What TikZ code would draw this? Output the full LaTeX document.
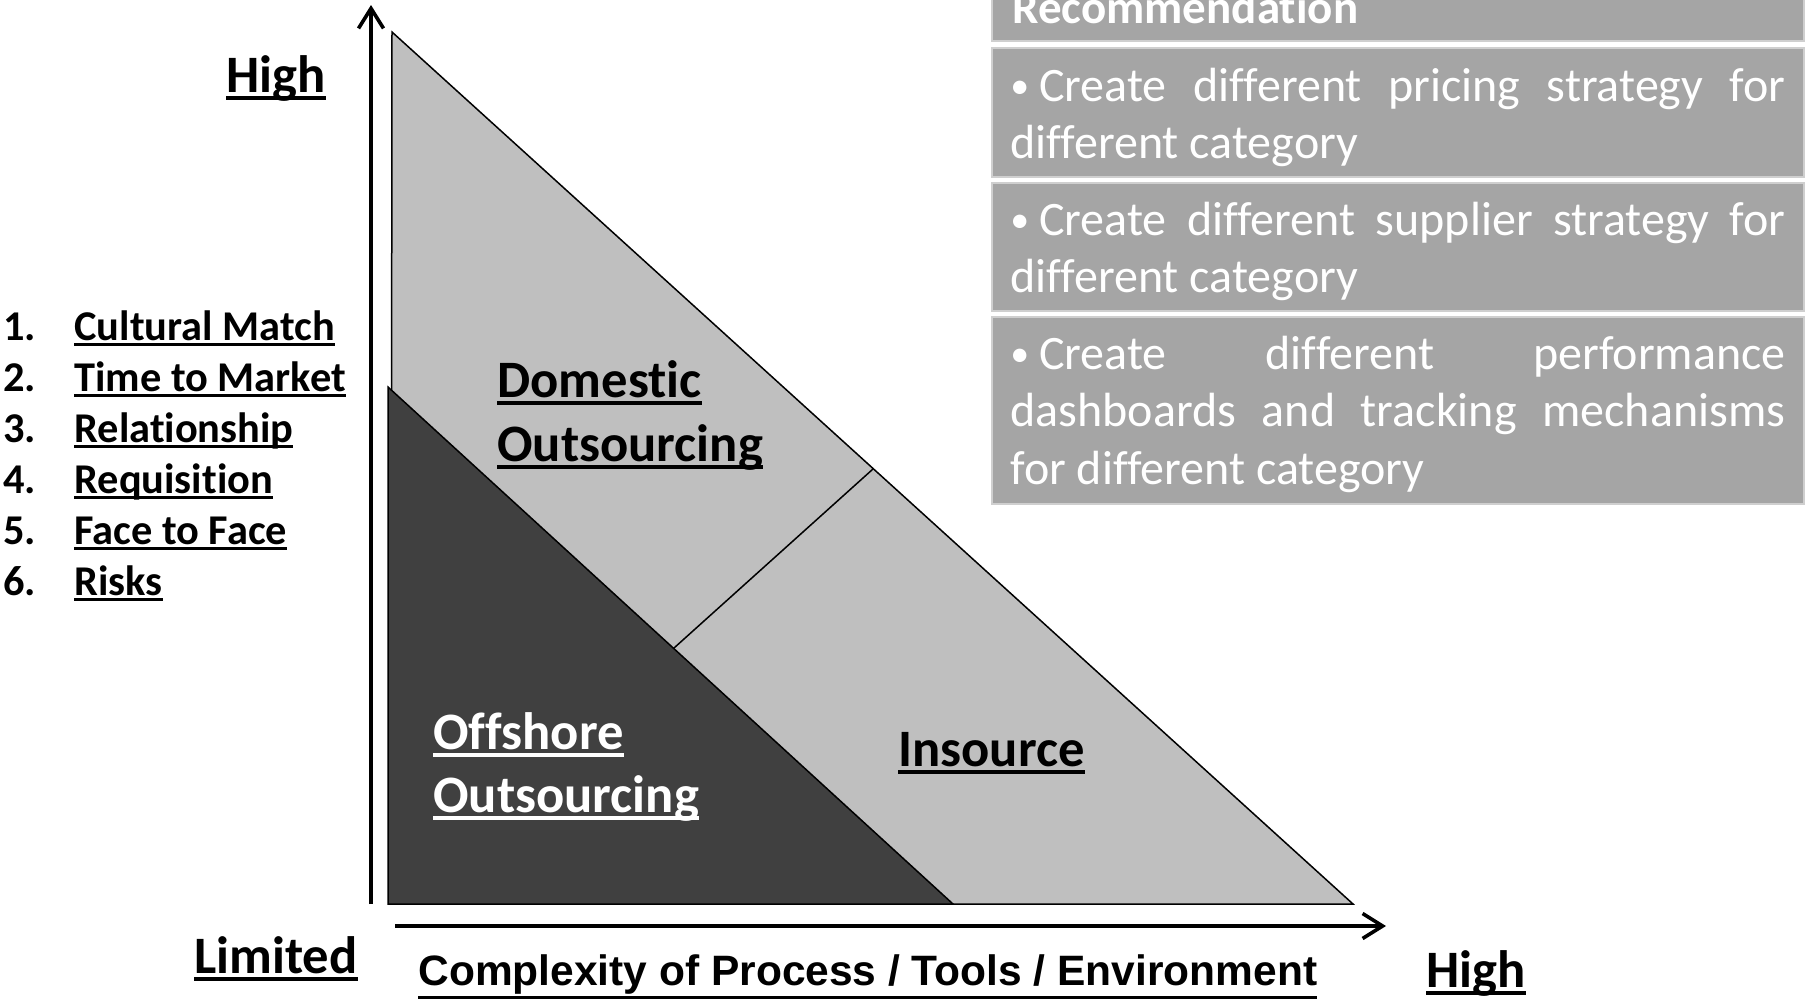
\documentclass[tikz,border=0pt]{standalone}
\usepackage{fontspec}
\setmainfont{Carlito}[Ligatures={NoCommon,NoContextual}, Contextuals=NoAlternate]
\newfontfamily\arialfont{Liberation Sans}
\usetikzlibrary{arrows.meta}

\definecolor{triLight}{HTML}{BFBFBF}
\definecolor{triDark}{HTML}{404040}
\definecolor{recGray}{HTML}{A5A5A5}
\definecolor{recEdge}{HTML}{CFCFCF}

% underline at a fixed depth
\newsavebox\ulbox
\newcommand{\ul}[2][0.145em]{\sbox\ulbox{#2}\rlap{\rule[-#1]{\wd\ulbox}{0.065em}}\usebox\ulbox}
% small bullet
\newcommand{\recbullet}{\makebox[0.6em][l]{\raisebox{0.06em}{\fontsize{19}{19}\selectfont •}}}

\tikzset{
  axis/.style={line width=1.8pt, -{Straight Barb[length=10pt,width=12.5pt,line width=1.8pt]}},
  region/.style={draw=black, line width=0.75pt},
  biglabel/.style={font=\bfseries\fontsize{26.3}{31}\selectfont, inner sep=0pt, anchor=base west},
  listlabel/.style={font=\bfseries\fontsize{21.2}{25}\selectfont, inner sep=0pt, anchor=base west},
  recbox/.style={fill=recGray, draw=recEdge, line width=0.6pt},
  rectext/.style={text=white, font=\fontsize{24}{28.75}\selectfont, text width=387.5pt,
    align=justify, inner sep=0pt, anchor=base west},
}

\begin{document}
\begin{tikzpicture}[x=0.5pt, y=-0.5pt]

  \clip (0,0) rectangle (1806,1002);

  % triangle corners
  \coordinate (A) at (392,32);
  \coordinate (B) at (391,904);
  \coordinate (C) at (1353,904);
  \coordinate (D) at (388,387);
  \coordinate (E) at (388,904);
  \coordinate (F) at (953,904);
  \coordinate (P) at (873,469);
  \coordinate (Q) at (674,648);

  \filldraw[region, fill=triLight] (A) -- (B) -- (C) -- cycle;
  \filldraw[region, fill=triDark] (D) -- (E) -- (F) -- cycle;
  \draw[region] (P) -- (Q);

  % axes
  \coordinate (ybot) at (371,904);
  \coordinate (ytop) at (371,5);
  \coordinate (xleft) at (395,926);
  \coordinate (xright) at (1386,926);
  \draw[axis] (ybot) -- (ytop);
  \draw[axis] (xleft) -- (xright);

  \node[biglabel, anchor=base] (yhigh) at (276,92) {\ul{High}};
  \node[biglabel, anchor=base] (ylow) at (276,973) {\ul{Limited}};
  \node[biglabel, anchor=base] (xhigh) at (1476,987) {\ul{High}};
  \node[font=\arialfont\bfseries\fontsize{21.25}{25}\selectfont, inner sep=0pt, anchor=base west]
    (xlabel) at (418,985) {\ul[0.33em]{Complexity of Process / Tools / Environment}};

  % regions
  \node[biglabel] (dom) at (497,397) {\ul{Domest\kern0pt ic}};
  \node[biglabel] (domb) at (497,461) {\ul{Outsourcing}};
  \node[biglabel, text=white] (off) at (433,749) {\ul{Offshore}};
  \node[biglabel, text=white] (offb) at (433,812) {\ul{Outsourcing}};
  \node[biglabel] (ins) at (898,766) {\ul{Insource}};

  % factors
  \foreach \i/\t in {1/Cultural Match, 2/Time to Market, 3/Relationship,
                     4/Requisition, 5/Face to Face, 6/Risks}{
    \node[listlabel] (num\i) at (3,{289+51*\i}) {\i.};
    \node[listlabel] (fac\i) at (74,{289+51*\i}) {\ul{\t}};
  }

  % recommendation
  \path[recbox] (992,-10) rectangle (1804,41);
  \path[recbox] (992,48) rectangle (1804,177);
  \path[recbox] (992,183) rectangle (1804,311);
  \path[recbox] (992,317) rectangle (1804,504);

  \node[font=\bfseries\fontsize{23.5}{28}\selectfont, text=white, inner sep=0pt, anchor=base west]
    (rechead) at (1012,23) {Recommendat\kern0pt ion};
  \node[rectext] (rec1) at (1010,101)
    {\recbullet Create different pricing strategy for\linebreak different category};
  \node[rectext] (rec2) at (1010,235)
    {\recbullet Create different supplier strategy for\linebreak different category};
  \node[rectext] (rec3) at (1010,369)
    {\recbullet Create different performance\linebreak dashboards and tracking mechanisms\linebreak for different category};

\end{tikzpicture}
\end{document}
